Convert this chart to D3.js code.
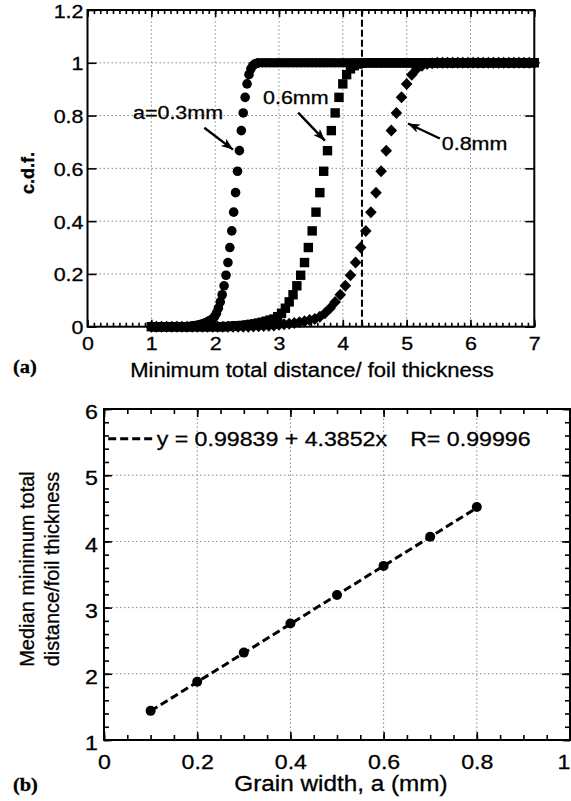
<!DOCTYPE html>
<html>
<head>
<meta charset="utf-8">
<script src="https://cdnjs.cloudflare.com/ajax/libs/d3/7.8.5/d3.min.js"></script>
<style>
body { margin: 0; background: #fff; }
svg text { font-family: "Liberation Sans", Arial, sans-serif; fill: #000; stroke: #000; stroke-width: 0.3; }
.sx  { transform-box: fill-box; transform-origin: center; transform: scaleX(1.13); }
.sxr { transform-box: fill-box; transform-origin: right center; transform: scaleX(1.13); }
.sxl { transform-box: fill-box; transform-origin: left center; transform: scaleX(1.13); }
.grid line { stroke: #8a8a8a; stroke-width: 1; stroke-dasharray: 1.5,2.5; }
.tk line { stroke: #000; stroke-width: 1.6; }
</style>
</head>
<body>
<script>

// ---------- panel (a) data ----------
// c.d.f. values on the rising part (same levels read for all three curves)
const riseCdf = [0.001,0.002,0.003,0.004,0.005,0.007,0.009,0.011,0.014,0.017,0.021,0.025,
                 0.029,0.038,0.051,0.070,0.094,0.121,0.155,0.195,0.243,0.300,0.363,0.434,
                 0.508,0.589,0.667,0.743,0.810,0.869,0.920,0.955,0.977,0.989,0.995,0.998];

// a = 0.3 mm (circles)
const riseX03 = [1.60,1.63,1.66,1.69,1.72,1.75,1.78,1.81,1.84,1.87,1.90,1.93,
                 1.96,1.99,2.02,2.05,2.08,2.11,2.14,2.17,2.20,2.23,2.26,2.29,
                 2.32,2.35,2.38,2.41,2.44,2.47,2.50,2.53,2.56,2.59,2.62,2.65];
const zeroX03 = [1.00,1.03,1.06,1.09,1.12,1.15,1.18,1.21,1.24,1.27,1.30,1.33,1.36,1.39,1.42,1.45,1.48,1.51,1.54,1.57];
const oneX03 = [2.68,2.74,2.80,2.86,2.92,2.98,3.04,3.10,3.16,3.22,3.28,3.34,3.40,3.46,3.52,3.58,3.64,3.70,
                3.76,3.82,3.88,3.94,4.00,4.06,4.12,4.18,4.24,4.30,4.36,4.42,4.48,4.54,4.60,4.66,4.72,4.78,
                4.84,4.90,4.96,5.02,5.08,5.14,5.20,5.26,5.32,5.38,5.44,5.50,5.56,5.62,5.68,5.74,5.80,5.86,
                5.92,5.98,6.04,6.10,6.16,6.22,6.28,6.34,6.40,6.46,6.52,6.58,6.64,6.70,6.76,6.82,6.88,6.94,7.00];

// a = 0.6 mm (squares)
const riseX06 = [2.20,2.26,2.32,2.38,2.44,2.50,2.56,2.62,2.68,2.74,2.80,2.86,
                 2.92,2.98,3.04,3.10,3.16,3.22,3.28,3.34,3.40,3.46,3.52,3.58,
                 3.64,3.70,3.76,3.82,3.88,3.94,4.00,4.06,4.12,4.18,4.24,4.30];
const zeroX06 = [1.00,1.06,1.12,1.18,1.24,1.30,1.36,1.42,1.48,1.54,1.60,1.66,1.72,1.78,1.84,1.90,1.96,2.02,2.08,2.14];
const oneX06 = [4.36,4.42,4.48,4.54,4.60,4.66,4.72,4.78,4.84,4.90,4.96,5.02,5.08,5.14,5.20,5.26,5.32,5.38,
                5.44,5.50,5.56,5.62,5.68,5.74,5.80,5.86,5.92,5.98,6.04,6.10,6.16,6.22,6.28,6.34,6.40,6.46,
                6.52,6.58,6.64,6.70,6.76,6.82,6.88,6.94,7.00];

// a = 0.8 mm (diamonds)
const riseX08 = [2.60,2.68,2.76,2.84,2.92,3.00,3.08,3.16,3.24,3.32,3.40,3.48,
                 3.56,3.64,3.72,3.80,3.88,3.96,4.04,4.12,4.20,4.28,4.36,4.44,
                 4.52,4.60,4.68,4.76,4.84,4.92,5.00,5.08,5.16,5.24,5.32,5.40];
const zeroX08 = [1.00,1.08,1.16,1.24,1.32,1.40,1.48,1.56,1.64,1.72,1.80,1.88,1.96,2.04,2.12,2.20,2.28,2.36,2.44,2.52];
const oneX08 = [5.48,5.56,5.64,5.72,5.80,5.88,5.96,6.04,6.12,6.20,6.28,6.36,6.44,6.52,6.60,6.68,6.76,6.84,6.92,7.00];

const xTicksA = [0,1,2,3,4,5,6,7];
const yTicksA = [0,0.2,0.4,0.6,0.8,1,1.2];
const markA = 4.3;   // dashed vertical line

// ---------- panel (b) data ----------
const grainWidth = [0.1,0.2,0.3,0.4,0.5,0.6,0.7,0.8];
const medianDist = [1.44,1.88,2.32,2.76,3.19,3.63,4.07,4.52];
const fitA = 0.99839, fitB = 4.3852, fitR = 0.99996;
const xTicksB = [0,0.2,0.4,0.6,0.8,1];
const yTicksB = [1,2,3,4,5,6];

// ---------- svg ----------
const svg = d3.select("body").append("svg")
  .attr("width", 571).attr("height", 801);

//build [x,cdf] points of a curve
function series(zeroX, riseX, oneX) {
  return zeroX.map(x => [x, 0])
    .concat(riseX.map((x, i) => [x, riseCdf[i]]))
    .concat(oneX.map(x => [x, 1]));
}
const fmt = d => String(+d.toFixed(2));

//================ panel (a) ================
const xA = d3.scaleLinear().domain([0, 7]).range([87.5, 534.3]);
const yA = d3.scaleLinear().domain([0, 1.2]).range([326.7, 10]);
const gA = svg.append("g");

//grid
gA.append("g").attr("class", "grid").selectAll("line")
  .data(xTicksA.slice(1, -1)).join("line")
  .attr("x1", d => xA(d)).attr("x2", d => xA(d))
  .attr("y1", yA(0)).attr("y2", yA(1.2));
gA.append("g").attr("class", "grid").selectAll("line")
  .data(yTicksA.slice(1, -1)).join("line")
  .attr("x1", xA(0)).attr("x2", xA(7))
  .attr("y1", d => yA(d)).attr("y2", d => yA(d));

//ticks, pointing inwards
function ticks(g, axis) {
  g.attr("class", "tk").call(axis).call(s => s.select(".domain").remove());
  return g;
}
const minorA = d3.range(0, 7.001, 0.1);
ticks(gA.append("g").attr("transform", `translate(0,${yA(0)})`),
  d3.axisBottom(xA).tickValues(minorA).tickSize(-4).tickFormat(""));
ticks(gA.append("g").attr("transform", `translate(0,${yA(1.2)})`),
  d3.axisTop(xA).tickValues(minorA).tickSize(-4).tickFormat(""));
ticks(gA.append("g").attr("transform", `translate(0,${yA(1.2)})`),
  d3.axisTop(xA).tickValues(xTicksA).tickSize(-7).tickFormat(""));
ticks(gA.append("g").attr("transform", `translate(${xA(7)},0)`),
  d3.axisRight(yA).tickValues(yTicksA).tickSize(-9).tickFormat(""));

const axBA = ticks(gA.append("g").attr("transform", `translate(0,${yA(0)})`),
  d3.axisBottom(xA).tickValues(xTicksA).tickSize(-7).tickPadding(10).tickFormat(fmt));
axBA.attr("font-size", 19).selectAll("text").attr("class", "sx");

const axLA = ticks(gA.append("g").attr("transform", `translate(${xA(0)},0)`),
  d3.axisLeft(yA).tickValues(yTicksA).tickSize(-9).tickPadding(4).tickFormat(fmt));
axLA.attr("font-size", 19).selectAll("text").attr("class", "sxr").attr("dy", "0.37em");

//dashed vertical line
gA.append("line")
  .attr("x1", xA(markA)).attr("x2", xA(markA))
  .attr("y1", yA(0)).attr("y2", yA(1.2))
  .attr("stroke", "#000").attr("stroke-width", 2).attr("stroke-dasharray", "7,3");

//markers
const s03 = series(zeroX03, riseX03, oneX03);
const s06 = series(zeroX06, riseX06, oneX06);
const s08 = series(zeroX08, riseX08, oneX08);

gA.append("g").selectAll("circle").data(s03).join("circle")
  .attr("cx", d => xA(d[0])).attr("cy", d => yA(d[1])).attr("r", 4.8);
gA.append("g").selectAll("rect").data(s06).join("rect")
  .attr("x", d => xA(d[0]) - 4.7).attr("y", d => yA(d[1]) - 4.7)
  .attr("width", 9.4).attr("height", 9.4);
gA.append("g").selectAll("path").data(s08).join("path")
  .attr("transform", d => `translate(${xA(d[0])},${yA(d[1])})`)
  .attr("d", "M0,-6L5.8,0L0,6L-5.8,0Z");

//frame
gA.append("rect")
  .attr("x", xA(0)).attr("y", yA(1.2))
  .attr("width", xA(7) - xA(0)).attr("height", yA(0) - yA(1.2))
  .attr("fill", "none").attr("stroke", "#000").attr("stroke-width", 2);

//arrow head
svg.append("defs").append("marker")
  .attr("id", "head").attr("markerUnits", "userSpaceOnUse")
  .attr("markerWidth", 14).attr("markerHeight", 10)
  .attr("refX", 12).attr("refY", 4.5).attr("orient", "auto")
  .append("path").attr("d", "M0,0L12,4.5L0,9L3,4.5Z").attr("fill", "#000");

//annotations
const notes = [
  { text: "a=0.3mm", at: [0.713, 0.811], from: [1.83, 0.754], to: [2.28, 0.671] },
  { text: "0.6mm",   at: [2.75, 0.868],  from: [3.30, 0.811], to: [3.72, 0.705] },
  { text: "0.8mm",   at: [5.55, 0.696],  from: [5.52, 0.713], to: [5.02, 0.770] }
];
notes.forEach(n => {
  gA.append("line")
    .attr("x1", xA(n.from[0])).attr("y1", yA(n.from[1]))
    .attr("x2", xA(n.to[0])).attr("y2", yA(n.to[1]))
    .attr("stroke", "#000").attr("stroke-width", 2.4)
    .attr("marker-end", "url(#head)");
  gA.append("text")
    .attr("class", "sxl")
    .attr("x", xA(n.at[0])).attr("y", yA(n.at[1])).attr("dy", "0.36em")
    .attr("font-size", 19).text(n.text);
});

//axis titles
gA.append("text").attr("class", "sx")
  .attr("x", 312).attr("y", 377).attr("text-anchor", "middle")
  .attr("font-size", 19.5).text("Minimum total distance/ foil thickness");
gA.append("text")
  .attr("transform", "translate(34,173) rotate(-90)")
  .attr("text-anchor", "middle").attr("font-weight", "bold")
  .attr("font-size", 18).text("c.d.f.");
gA.append("text").attr("class", "sxl")
  .attr("x", 13).attr("y", 373)
  .style("font-family", "'Liberation Serif', 'Times New Roman', serif")
  .attr("font-weight", "bold").attr("font-size", 18).text("(a)");

//================ panel (b) ================
const xB = d3.scaleLinear().domain([0, 1]).range([104, 570]);
const yB = d3.scaleLinear().domain([1, 6]).range([740, 409]);
const gB = svg.append("g");

gB.append("g").attr("class", "grid").selectAll("line")
  .data(xTicksB.slice(1, -1)).join("line")
  .attr("x1", d => xB(d)).attr("x2", d => xB(d))
  .attr("y1", yB(1)).attr("y2", yB(6));
gB.append("g").attr("class", "grid").selectAll("line")
  .data(yTicksB.slice(1, -1)).join("line")
  .attr("x1", xB(0)).attr("x2", xB(1))
  .attr("y1", d => yB(d)).attr("y2", d => yB(d));

const minorXB = d3.range(0, 1.001, 0.05);
const minorYB = d3.range(1, 6.001, 0.2);
ticks(gB.append("g").attr("transform", `translate(0,${yB(1)})`),
  d3.axisBottom(xB).tickValues(minorXB).tickSize(-5).tickFormat(""));
ticks(gB.append("g").attr("transform", `translate(0,${yB(6)})`),
  d3.axisTop(xB).tickValues(minorXB).tickSize(-5).tickFormat(""));
ticks(gB.append("g").attr("transform", `translate(0,${yB(6)})`),
  d3.axisTop(xB).tickValues(xTicksB).tickSize(-8).tickFormat(""));
ticks(gB.append("g").attr("transform", `translate(${xB(0)},0)`),
  d3.axisLeft(yB).tickValues(minorYB).tickSize(-5).tickFormat(""));
ticks(gB.append("g").attr("transform", `translate(${xB(1)},0)`),
  d3.axisRight(yB).tickValues(minorYB).tickSize(-5).tickFormat(""));
ticks(gB.append("g").attr("transform", `translate(${xB(1)},0)`),
  d3.axisRight(yB).tickValues(yTicksB).tickSize(-8).tickFormat(""));

const axBB = ticks(gB.append("g").attr("transform", `translate(0,${yB(1)})`),
  d3.axisBottom(xB).tickValues(xTicksB).tickSize(-8).tickPadding(14).tickFormat(fmt));
axBB.attr("font-size", 20.5).selectAll("text").attr("class", "sx");
//last label sits at the page edge: keep it inside
axBB.selectAll("text").filter(d => d === 1)
  .attr("class", "sxr").attr("text-anchor", "end");

const axLB = ticks(gB.append("g").attr("transform", `translate(${xB(0)},0)`),
  d3.axisLeft(yB).tickValues(yTicksB).tickSize(-8).tickPadding(6).tickFormat(fmt));
axLB.attr("font-size", 20.5).selectAll("text").attr("class", "sxr").attr("dy", "0.47em");

//fit line
const fitLine = d3.line().x(d => xB(d)).y(d => yB(fitA + fitB * d));
gB.append("path")
  .attr("d", fitLine([grainWidth[0], grainWidth[grainWidth.length - 1]]))
  .attr("fill", "none").attr("stroke", "#000")
  .attr("stroke-width", 3).attr("stroke-dasharray", "8,4");

//points
gB.append("g").selectAll("circle").data(grainWidth).join("circle")
  .attr("cx", d => xB(d)).attr("cy", (d, i) => yB(medianDist[i])).attr("r", 5);

//legend
gB.append("line")
  .attr("x1", xB(0.009)).attr("x2", xB(0.109))
  .attr("y1", yB(5.55)).attr("y2", yB(5.55))
  .attr("stroke", "#000").attr("stroke-width", 3).attr("stroke-dasharray", "8,4");
gB.append("text").attr("class", "sxl")
  .attr("x", xB(0.113)).attr("y", yB(5.55)).attr("dy", "0.36em")
  .attr("font-size", 20.5).text(`y = ${fitA} + ${fitB}x`);
gB.append("text").attr("class", "sxl")
  .attr("x", xB(0.657)).attr("y", yB(5.55)).attr("dy", "0.36em")
  .attr("font-size", 20.5).text(`R= ${fitR}`);

//frame
gB.append("rect")
  .attr("x", xB(0)).attr("y", yB(6))
  .attr("width", xB(1) - xB(0)).attr("height", yB(1) - yB(6))
  .attr("fill", "none").attr("stroke", "#000").attr("stroke-width", 2);

//axis titles
gB.append("text").attr("class", "sx")
  .attr("x", 341).attr("y", 791).attr("text-anchor", "middle")
  .attr("font-size", 21.5).text("Grain width, a (mm)");
gB.append("text")
  .attr("transform", "translate(34,569) rotate(-90)")
  .attr("text-anchor", "middle").attr("font-size", 20).text("Median minimum total");
gB.append("text")
  .attr("transform", "translate(59,569) rotate(-90)")
  .attr("text-anchor", "middle").attr("font-size", 20).text("distance/foil thickness");
gB.append("text").attr("class", "sxl")
  .attr("x", 13).attr("y", 791)
  .style("font-family", "'Liberation Serif', 'Times New Roman', serif")
  .attr("font-weight", "bold").attr("font-size", 18).text("(b)");

</script>
</body>
</html>
